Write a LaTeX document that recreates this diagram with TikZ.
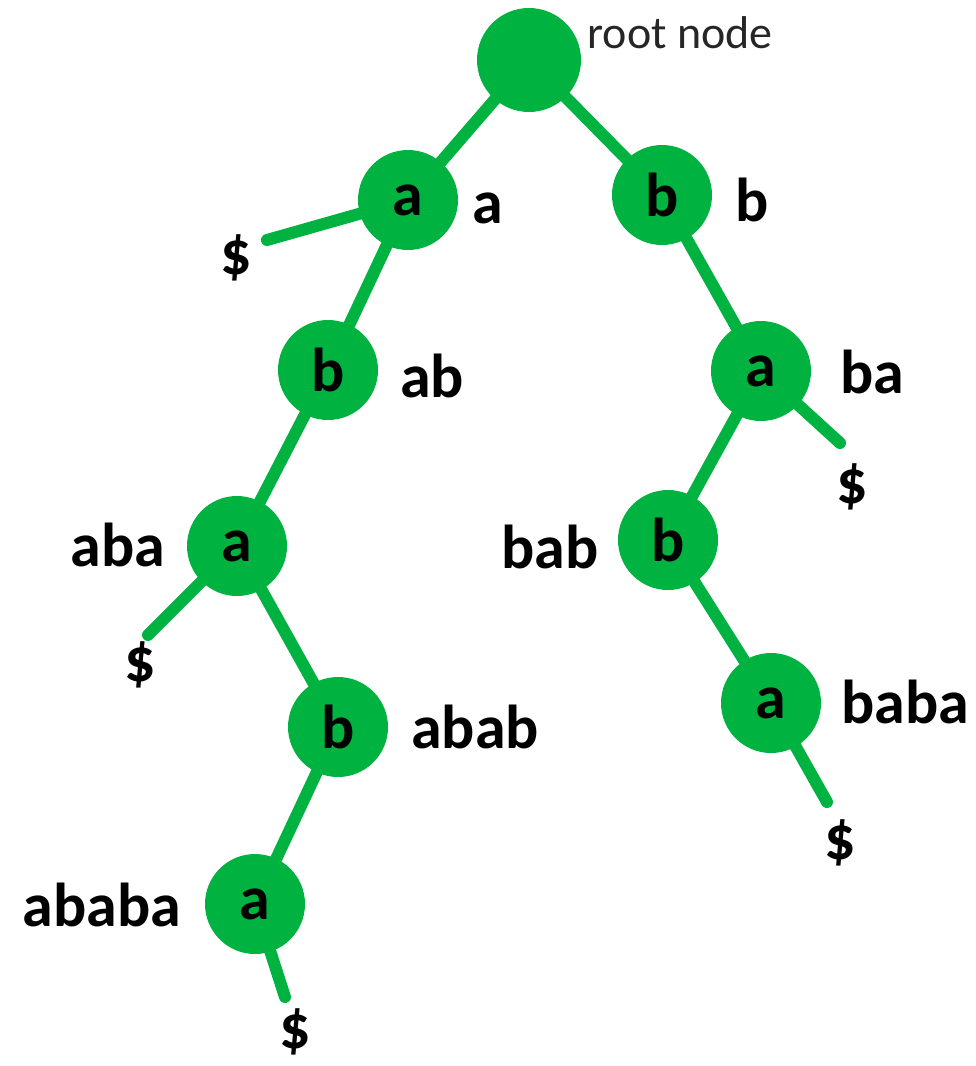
\documentclass[tikz,border=0pt]{standalone}
\usepackage{fontspec}
\setmainfont{Carlito}
\definecolor{tgreen}{RGB}{0,178,64}
\begin{document}
\begin{tikzpicture}[x=1pt,y=-1pt,
  tnode/.style={circle,fill=tgreen,minimum size=100pt,inner sep=0pt,font=\fontsize{62}{62}\selectfont\bfseries},
  lbl/.style={inner sep=0pt,font=\fontsize{62}{62}\selectfont\bfseries},
  edge/.style={draw=tgreen,line width=12pt,line cap=round}]
\useasboundingbox (0,0) rectangle (976,1066);
% node coordinates (centres)
\coordinate (c0) at (529,60);
\coordinate (c1) at (408,200);
\coordinate (c2) at (328,370);
\coordinate (c3) at (237,546);
\coordinate (c4) at (338,727);
\coordinate (c5) at (255,904);
\coordinate (c6) at (662,195);
\coordinate (c7) at (761,371);
\coordinate (c8) at (668,540);
\coordinate (c9) at (771,703);
% free ends
\coordinate (e1) at (267,240);
\coordinate (e3) at (148,635);
\coordinate (e5) at (285,997);
\coordinate (e7) at (840,443);
\coordinate (e9) at (827,802);
% edges
\draw[edge] (c0) -- (c1) -- (c2) -- (c3) -- (c4) -- (c5) -- (e5);
\draw[edge] (c1) -- (e1);
\draw[edge] (c3) -- (e3);
\draw[edge] (c0) -- (c6) -- (c7) -- (c8) -- (c9) -- (e9);
\draw[edge] (c7) -- (e7);
% nodes
\node[tnode,minimum size=104pt] (root) at (c0) {};
\node[tnode] (n1) at (c1) {a};
\node[tnode] (n2) at (c2) {b};
\node[tnode] (n3) at (c3) {a};
\node[tnode] (n4) at (c4) {b};
\node[tnode] (n5) at (c5) {a};
\node[tnode] (n6) at (c6) {b};
\node[tnode] (n7) at (c7) {a};
\node[tnode] (n8) at (c8) {b};
\node[tnode] (n9) at (c9) {a};
% labels
\node[inner sep=0pt,font=\fontsize{46}{46}\selectfont,text=black!85] (lroot) at (680,33) {root node};
\node[lbl] (l1) at (488,208) {a};
\node[lbl] (l2) at (432,376) {ab};
\node[lbl] (l3) at (118,545) {aba};
\node[lbl] (l4) at (475,727) {abab};
\node[lbl] (l5) at (102,905) {ababa};
\node[lbl] (l6) at (752,200) {b};
\node[lbl] (l7) at (872,372) {ba};
\node[lbl] (l8) at (550,547) {bab};
\node[lbl] (l9) at (905,702) {baba};
\node[lbl] (d1) at (236,258) {\$};
\node[lbl] (d3) at (140,665) {\$};
\node[lbl] (d5) at (295,1032) {\$};
\node[lbl] (d7) at (852,487) {\$};
\node[lbl] (d9) at (840,843) {\$};
\end{tikzpicture}
\end{document}
